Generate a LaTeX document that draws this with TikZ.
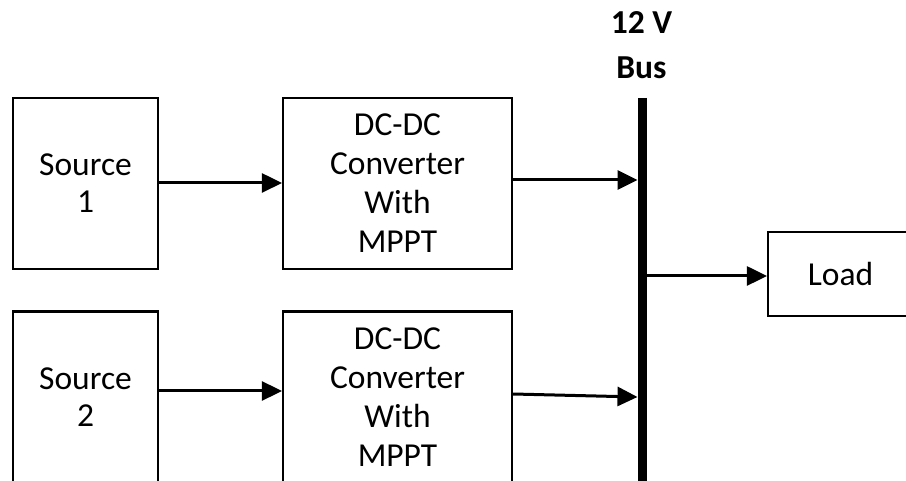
\documentclass[tikz,border=0pt]{standalone}
\usepackage{fontspec}
\setmainfont{Carlito}
\usetikzlibrary{arrows.meta}

\begin{document}
\begin{tikzpicture}[x=1pt,y=-1pt,
  block/.style={draw=black, line width=2.2pt, rectangle, inner sep=0pt,
    align=center, font=\fontsize{33.5}{39}\selectfont},
  srcbox/.style={block, minimum width=145pt, minimum height=171pt,
    font=\fontsize{33.5}{37}\selectfont},
  convbox/.style={block, minimum width=229pt, minimum height=171pt},
  loadbox/.style={block, minimum width=145pt, minimum height=84pt},
  flow/.style={line width=3pt, -{Triangle[length=20pt,width=19pt]}},
  busline/.style={line width=9pt}
]
\useasboundingbox (0,0) rectangle (906,481);
\clip (0,0) rectangle (906,481);

% source and converter blocks
\node[srcbox]  (src1)  at (85.5,183.5) {Source\\1};
\node[srcbox]  (src2)  at (85.5,397)   {Source\\2};
\node[convbox] (conv1) at (397.5,183.5) {DC-DC\\Converter\\With\\MPPT};
\node[convbox] (conv2) at (397.5,397)   {DC-DC\\Converter\\With\\MPPT};
\node[loadbox] (load)  at (840.5,274)   {Load};

% 12 V bus bar
\coordinate (bustop) at (642,98);
\coordinate (busbot) at (642,490);
\draw[busline] (bustop) -- (busbot);
\node[align=center, inner sep=0pt, font=\fontsize{33.5}{45}\selectfont\bfseries]
  (buslabel) at (641.5,45) {12 V\\Bus};

% connection points on the bus
\coordinate (in1)  at (637.5,180);
\coordinate (in2)  at (637.5,397);
\coordinate (out1) at (646,276);

% power flow
\draw[flow] (src1.east |- 0,183) -- (conv1.west |- 0,183);
\draw[flow] (src2.east |- 0,391) -- (conv2.west |- 0,391);
\draw[flow] (conv1.east |- in1) -- (in1);
\draw[flow] (conv2.east |- 0,394) -- (in2);
\draw[flow] (out1) -- (load.west |- out1);
\end{tikzpicture}
\end{document}
